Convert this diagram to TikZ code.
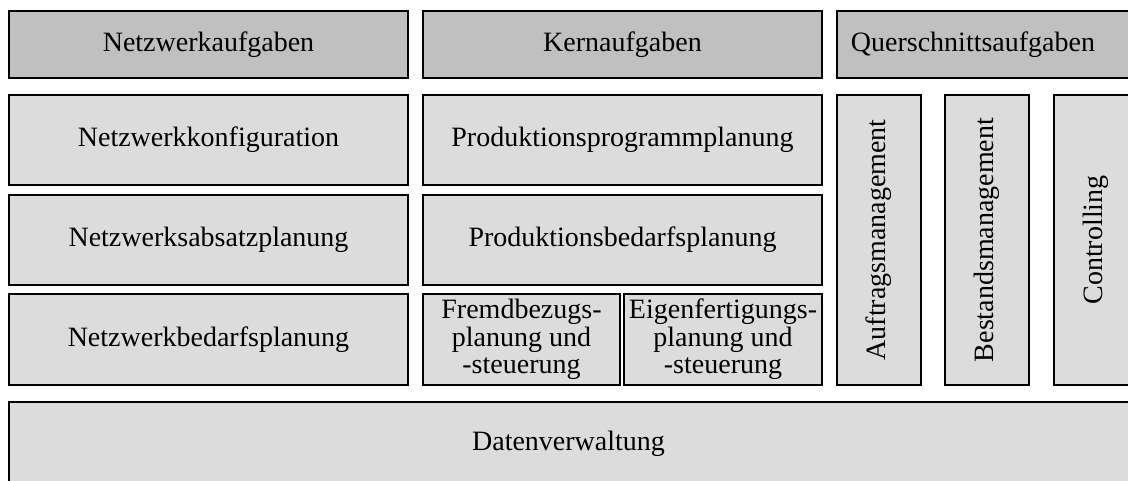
\documentclass[tikz,border=0pt]{standalone}
\usepackage{fontspec}
\setmainfont{Liberation Serif}
\begin{document}
\begin{tikzpicture}[x=0.5pt,y=-0.5pt,
  task/.style={draw=black,line width=1pt,inner sep=0pt,align=center,
    font=\fontsize{14}{13.7}\selectfont},
  headbox/.style={task,fill=headgray},
  bodybox/.style={task,fill=bodygray}]
\definecolor{headgray}{HTML}{C0C0C0}
\definecolor{bodygray}{HTML}{DCDCDC}
% box from (x1,y1) to (x2,y2) in pixel units
\newcommand\areabox[7]{%
  \node[#6,minimum width={(#4-#2)*0.5pt},minimum height={(#5-#3)*0.5pt}]
    (#1) at ({(#2+#4)/2},{(#3+#5)/2}) {#7};}
\useasboundingbox (0,0) rectangle (1128,481);
\clip (0,0) rectangle (1128,481);
% headers
\areabox{nethead}{9}{11}{408}{78}{headbox}{Netzwerkaufgaben}
\areabox{corehead}{423}{11}{822}{78}{headbox}{Kernaufgaben}
\areabox{crosshead}{837}{11}{1160}{78}{headbox}{}
\node[font=\fontsize{14}{13.7}\selectfont] (crosslabel) at (973,44.5) {Querschnittsaufgaben};
% network tasks
\areabox{konf}{9}{95}{408}{185}{bodybox}{Netzwerkkonfiguration}
\areabox{absatz}{9}{195}{408}{285}{bodybox}{Netzwerksabsatzplanung}
\areabox{bedarf}{9}{294}{408}{385}{bodybox}{Netzwerkbedarfsplanung}
% core tasks
\areabox{prog}{423}{95}{822}{185}{bodybox}{Produktionsprogrammplanung}
\areabox{pbedarf}{423}{195}{822}{285}{bodybox}{Produktionsbedarfsplanung}
\areabox{fremd}{423}{294}{620}{385}{bodybox}{Fremdbezugs-\\planung und\\-steuerung}
\areabox{eigen}{624}{294}{822}{385}{bodybox}{Eigenfertigungs-\\planung und\\-steuerung}
% cross-sectional tasks
\areabox{auftrag}{837}{95}{921}{385}{bodybox}{\rotatebox{90}{Auftragsmanagement}}
\areabox{bestand}{945}{95}{1029}{385}{bodybox}{\rotatebox{90}{Bestandsmanagement}}
\areabox{contr}{1054}{95}{1138}{385}{bodybox}{\rotatebox{90}{Controlling}}
% data layer
\areabox{daten}{9}{402}{1160}{520}{bodybox}{}
\node[font=\fontsize{14}{13.7}\selectfont] (datenlabel) at (568.5,444) {Datenverwaltung};
\end{tikzpicture}
\end{document}
